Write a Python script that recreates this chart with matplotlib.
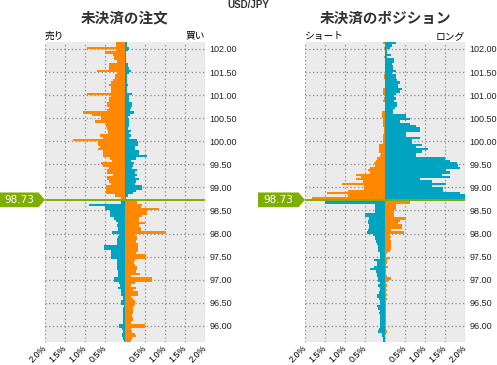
import numpy as np
import matplotlib
matplotlib.use('Agg')
import matplotlib.pyplot as plt
import matplotlib.transforms as mtransforms
from matplotlib.patches import Polygon

plt.rcParams['font.family'] = ['Noto Sans CJK JP', 'DejaVu Sans']

pair = 'USD/JPY'
current_price = 98.73
top_level = 102.10   # lower edge of the top bar
step = 0.05

# open orders (% of total), from 102.10 down to 95.65
order_sell = [0.22, 0.22, 0.95, 0.22, 0.5, 0.3, 0.27, 0.27, 0.2, 0.4,
              0.4, 0.4, 0.7, 0.19, 0.25, 0.25, 0.3, 0.35, 0.4, 0.35,
              0.35, 0.35, 0.95, 0.35, 0.4, 0.4, 0.45, 0.45, 0.4, 0.45,
              1.05, 0.82, 0.6, 0.6, 0.75, 0.48, 0.48, 0.46, 0.42, 0.42,
              0.62, 0.55, 1.3, 0.67, 0.67, 0.62, 0.67, 0.55, 0.55, 0.55,
              0.38, 0.33, 0.6, 0.55, 0.4, 0.45, 0.45, 0.3, 0.45, 0.45,
              0.4, 0.35, 0.48, 0.48, 0.48, 0.48, 0.25, 0.1, 0.02, 0.1,
              0.9, 0.5, 0.5, 0.38, 0.38, 0.38, 0.28, 0.22, 0.18, 0.2,
              0.18, 0.18, 0.32, 0.15, 0.18, 0.2, 0.2, 0.2, 0.52, 0.52,
              0.35, 0.35, 0.35, 0.35, 0.2, 0.2, 0.2, 0.2, 0.2, 0.18,
              0.18, 0.18, 0.28, 0.28, 0.15, 0.12, 0.18, 0.1, 0.1, 0.1,
              0.05, 0.05, 0.1, 0.1, 0.03, 0.05, 0.05, 0.05, 0.05, 0.05,
              0.05, 0.05, 0.15, 0.15, 0.07, 0.05, 0.08, 0.08, 0.05, 0.03]
order_buy = [0.05, 0.05, 0.1, 0.07, 0.03, 0.02, 0.02, 0.02, 0.03, 0.08,
             0.08, 0.1, 0.15, 0.1, 0.05, 0.05, 0.04, 0.05, 0.07, 0.05,
             0.04, 0.04, 0.17, 0.1, 0.1, 0.1, 0.17, 0.17, 0.14, 0.13,
             0.22, 0.12, 0.08, 0.1, 0.09, 0.09, 0.1, 0.08, 0.15, 0.1,
             0.15, 0.1, 0.3, 0.32, 0.32, 0.25, 0.25, 0.35, 0.35, 0.55,
             0.27, 0.15, 0.23, 0.2, 0.18, 0.3, 0.25, 0.3, 0.25, 0.35,
             0.28, 0.25, 0.43, 0.43, 0.27, 0.2, 0.08, 0.02, 0.0, 0.3,
             0.42, 0.4, 0.85, 0.55, 0.55, 0.42, 0.35, 0.35, 0.5, 0.35,
             0.4, 0.4, 1.02, 0.25, 0.3, 0.3, 0.28, 0.32, 0.32, 0.32,
             0.32, 0.28, 0.52, 0.52, 0.25, 0.23, 0.25, 0.3, 0.3, 0.28,
             0.38, 0.15, 0.68, 0.68, 0.25, 0.15, 0.28, 0.2, 0.32, 0.32,
             0.15, 0.2, 0.25, 0.25, 0.22, 0.2, 0.2, 0.2, 0.18, 0.2,
             0.2, 0.15, 0.5, 0.5, 0.15, 0.17, 0.25, 0.27, 0.18, 0.15]

# open positions (% of total)
pos_short = [0.05, 0, 0.03, 0, 0, 0, 0.03, 0, 0, 0,
             0, 0, 0, 0, 0.03, 0.03, 0, 0, 0, 0,
             0.04, 0.04, 0.04, 0, 0.03, 0.05, 0, 0, 0, 0,
             0.08, 0.08, 0.08, 0.05, 0.05, 0.05, 0.05, 0.03, 0.03, 0.03,
             0.05, 0.05, 0.05, 0.05, 0.15, 0.15, 0.15, 0.15, 0.1, 0.13,
             0.2, 0.22, 0.28, 0.25, 0.38, 0.43, 0.38, 0.73, 0.6, 0.73,
             0.56, 1.08, 0.53, 0.53, 0.93, 1.46, 0.93, 1.83, 1.98, 1.5,
             0.26, 0.26, 0.26, 0.26, 0.5, 0.5, 0.4, 0.43, 0.43, 0.4,
             0.4, 0.43, 0.45, 0.3, 0.26, 0.26, 0.23, 0.21, 0.18, 0.18,
             0.18, 0.13, 0.13, 0.13, 0.28, 0.21, 0.21, 0.28, 0.38, 0.23,
             0.21, 0.21, 0.18, 0.18, 0.13, 0.17, 0.13, 0.13, 0.16, 0.21,
             0.21, 0.16, 0.13, 0.13, 0.21, 0.18, 0.13, 0.16, 0.13, 0.13,
             0.13, 0.13, 0.13, 0.13, 0.16, 0.17, 0.08, 0.08, 0.05, 0.05]
pos_long = [0.27, 0.17, 0.12, 0.05, 0.05, 0.15, 0.05, 0.22, 0.22, 0.18,
            0.2, 0.2, 0.27, 0.18, 0.27, 0.27, 0.3, 0.38, 0.33, 0.33,
            0.43, 0.38, 0.28, 0.23, 0.27, 0.23, 0.3, 0.3, 0.25, 0.2,
            0.2, 0.53, 0.53, 0.62, 0.38, 0.63, 0.77, 0.87, 0.87, 0.53,
            0.53, 0.87, 0.67, 0.68, 0.93, 0.78, 1.08, 0.93, 0.78, 0.78,
            1.49, 1.63, 1.8, 1.82, 1.87, 1.52, 1.63, 1.42, 1.63, 0.87,
            1.17, 1.52, 1.17, 1.45, 1.45, 1.87, 2.0, 2.0, 2.0, 0.62,
            0.28, 0.28, 0.27, 0.22, 0.22, 0.22, 0.52, 0.37, 0.33, 0.43,
            0.43, 0.16, 0.47, 0.12, 0.15, 0.12, 0.14, 0.15, 0.15, 0.15,
            0.12, 0.05, 0.02, 0.13, 0.06, 0.06, 0.03, 0.08, 0.03, 0.03,
            0.02, 0.05, 0.16, 0.08, 0.03, 0.05, 0.03, 0.05, 0.03, 0.05,
            0.03, 0.05, 0.03, 0.03, 0.03, 0.03, 0.03, 0.03, 0.03, 0.03,
            0.03, 0.02, 0.02, 0.02, 0.03, 0.04, 0.03, 0, 0, 0]

levels = top_level - step * np.arange(len(order_sell))
y_ticks = np.arange(96.0, 102.01, 0.5)
x_ticks = [-2, -1.5, -1, -0.5, 0, 0.5, 1, 1.5, 2]
x_labels = ['2.0%', '1.5%', '1.0%', '0.5%', '', '0.5%', '1.0%', '1.5%', '2.0%']

ORANGE = '#ff8800'
TEAL = '#00a4c0'
GREEN = '#80ae00'


def draw_panel(ax, left_vals, right_vals, title, left_label, right_label, box_left):
    left_vals = np.array(left_vals)
    right_vals = np.array(right_vals)
    above = levels + step > current_price
    ax.barh(levels, -left_vals, height=step, align='edge',
            color=np.where(above, ORANGE, TEAL), linewidth=0, zorder=2)
    ax.barh(levels, right_vals, height=step, align='edge',
            color=np.where(above, TEAL, ORANGE), linewidth=0, zorder=2)

    ax.set_xlim(-2, 2)
    ax.set_ylim(95.65, 102.15)
    ax.set_facecolor('#ebebeb')
    for s in ax.spines.values():
        s.set_visible(False)
    ax.set_axisbelow(True)
    ax.grid(True, color='#8a8a8a', linestyle=(0, (1, 2)), linewidth=0.9)

    ax.set_xticks(x_ticks)
    ax.set_xticklabels(x_labels, rotation=45, ha='right', va='center',
                       rotation_mode='anchor', fontsize=6.5, family='Liberation Sans')
    ax.set_yticks(y_ticks)
    ax.set_yticklabels(['%.2f' % v for v in y_ticks], fontsize=6.5,
                       family='Liberation Sans', color='#222222')
    ax.yaxis.tick_right()
    ax.tick_params(axis='x', length=0, pad=3)
    ax.tick_params(axis='y', length=0, pad=3)

    ax.text(0, 1.004, left_label, transform=ax.transAxes, ha='left', va='bottom', fontsize=7)
    ax.text(1, 1.004, right_label, transform=ax.transAxes, ha='right', va='bottom', fontsize=7)
    ax.set_title(title, fontsize=10.5, fontweight='bold', color='#333333', pad=14)

    # current price line and marker
    ax.axhline(current_price, color=GREEN, linewidth=1.4, zorder=3)
    trans = mtransforms.blended_transform_factory(ax.transAxes, ax.transData)
    h = 0.16
    marker = Polygon([(box_left, current_price - h), (-0.04, current_price - h),
                      (0, current_price), (-0.04, current_price + h),
                      (box_left, current_price + h)],
                     closed=True, transform=trans, facecolor=GREEN,
                     edgecolor='none', clip_on=False, zorder=4)
    ax.add_patch(marker)
    ax.text((box_left - 0.04) / 2, current_price, '%.2f' % current_price,
            transform=trans, ha='center', va='center', color='white',
            fontsize=7.5, family='DejaVu Sans', zorder=5)


fig = plt.figure(figsize=(4.97, 3.65), dpi=100)
ax1 = fig.add_axes([45 / 497, 23 / 365, 160 / 497, 300 / 365])
ax2 = fig.add_axes([305 / 497, 23 / 365, 160 / 497, 300 / 365])

draw_panel(ax1, order_sell, order_buy, '未決済の注文', '売り', '買い', -45 / 160)
draw_panel(ax2, pos_short, pos_long, '未決済のポジション', 'ショート', 'ロング', -47 / 160)

fig.text(0.5, 1 - 5 / 365, pair, ha='center', va='center', fontsize=7,
         fontweight='bold', color='#333333', family='Liberation Sans')

fig.savefig('out.png', dpi=100)
